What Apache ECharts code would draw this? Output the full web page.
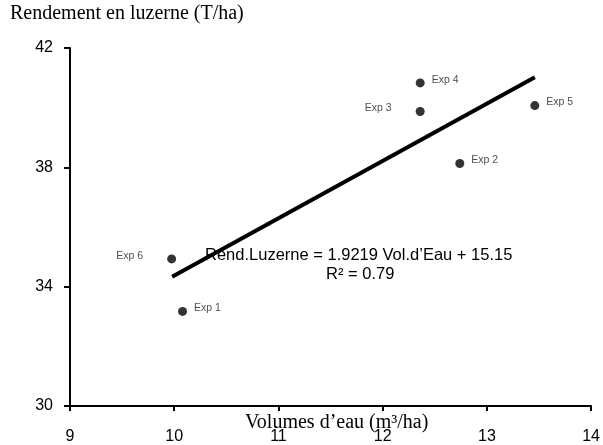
<!DOCTYPE html>
<html><head><meta charset="utf-8">
<script src="https://cdn.jsdelivr.net/npm/echarts@6/dist/echarts.min.js"></script>
<style>html,body{margin:0;padding:0;background:#fff}#c{width:603px;height:445px}</style>
</head><body><div id="c"></div>
<script>
const expNames = ['Exp 1','Exp 2','Exp 3','Exp 4','Exp 5','Exp 6'];
const waterVolumes = [10.08, 12.74, 12.36, 12.36, 13.46, 9.975];
const yields = [33.17, 38.13, 39.87, 40.83, 40.07, 34.93];
const labelSides = ['right','right','left','right','right','left'];
const slope = 1.9219, intercept = 15.15;
const fitX = [9.98, 13.46];
const xTicks = [9, 10, 11, 12, 13, 14];
const yTicks = [30, 34, 38, 42];

const chart = echarts.init(document.getElementById('c'));
const pts = waterVolumes.map((x, i) => ({
  value: [x, yields[i]],
  name: expNames[i],
  label: {
    show: true, formatter: expNames[i], position: labelSides[i],
    distance: labelSides[i] === 'left' ? 24 : 7,
    offset: [0, -3], fontSize: 10.5, color: '#222', fontFamily: 'Liberation Sans'
  }
}));
chart.setOption({
  animation: false,
  grid: { left: 70, right: 10, top: 48, bottom: 37 },
  xAxis: {
    type: 'value', min: xTicks[0], max: xTicks[xTicks.length-1], interval: 1,
    splitLine: { show: false },
    axisLine: { lineStyle: { color: '#000', width: 2 } },
    axisTick: { show: true, length: 5, lineStyle: { color: '#000', width: 2 } },
    axisLabel: { margin: 23, fontSize: 16, color: '#000', fontFamily: 'Liberation Sans' }
  },
  yAxis: {
    type: 'value', min: yTicks[0], max: yTicks[yTicks.length-1], interval: 4,
    splitLine: { show: false },
    axisLine: { show: true, lineStyle: { color: '#000', width: 2 } },
    axisTick: { show: true, length: 6, lineStyle: { color: '#000', width: 2 } },
    axisLabel: { margin: 17, fontSize: 16, color: '#000', fontFamily: 'Liberation Sans' }
  },
  graphic: [
    { type: 'text', left: 10, top: 4, style: { text: 'Rendement en luzerne (T/ha)', font: '20px "Liberation Serif"', fill: '#000' } },
    { type: 'text', left: 245, top: 413, style: { text: 'Volumes d\u2019eau (m\u00b3/ha)', font: '20px "Liberation Serif"', fill: '#000' } },
    { type: 'text', left: 205, top: 247, style: { text: 'Rend.Luzerne = 1.9219 Vol.d\u2019Eau + 15.15', font: '16.5px "Liberation Sans"', fill: '#000' } },
    { type: 'text', left: 326, top: 266, style: { text: 'R\u00b2 = 0.79', font: '16.5px "Liberation Sans"', fill: '#000' } }
  ],
  series: [
    {
      type: 'line', data: fitX.map(x => [x, slope * x + intercept]),
      symbol: 'none', lineStyle: { color: '#000', width: 4 }, z: 2
    },
    {
      type: 'scatter', data: pts, symbol: 'circle', symbolSize: 9,
      itemStyle: { color: '#000' }, z: 3
    }
  ]
});
</script></body></html>
